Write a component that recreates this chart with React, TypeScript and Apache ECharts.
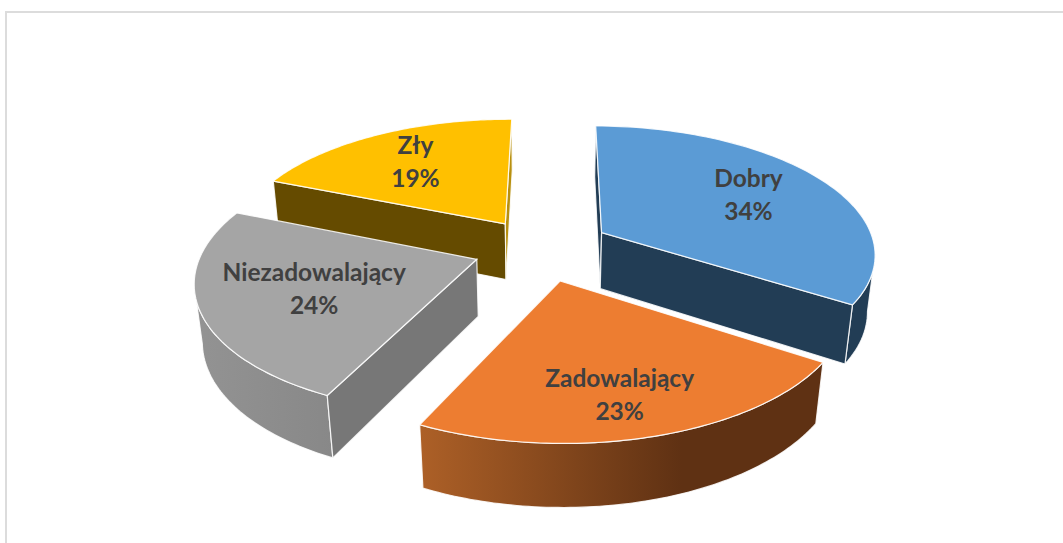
import React, { useEffect, useRef } from "react";
import * as echarts from "echarts";

const categories = ["Dobry", "Zadowalający", "Niezadowalający", "Zły"];
const values = [34, 23, 24, 19];

const W = 1063;
const H = 543;
const CX = 540;
const CY = 248;
const RX = 274;
const RY = 127;
const PERSP = 0.15;
const ROTATION = 0.5;
const EXPLODE = [0.26, 0.26, 0.244, 0.235];
const DEPTH = 58;
const DEPTH_W = 0.023;
const LABEL_R = [0.67, 0.74, 0.585, 0.645];
const LABEL_DX = [-2, -7, -4, -4];
const LABEL_DY = [-1, 3, 0, -3];
const DRAW_ORDER = [3, 2, 0, 1];

const topColors = ["#5b9bd5", "#ed7d31", "#a5a5a5", "#ffc000"];
const sideColors = ["#223d55", "#5f3113", "#777777", "#654b00"];
const startWall = ["#223d55", "#5f3113", "#777777", "#654b00"];
const endWall = ["#223d55", "#5f3113", "#777777", "#b8900f"];

function project(X: number, Y: number, Z: number): number[] {
  const w = 1 + PERSP * Y + DEPTH_W * Z;
  return [CX + (RX * X) / w, CY + (-RY * Y + DEPTH * Z) / w];
}

const total = values.reduce((a, b) => a + b, 0);
const rad = (d: number) => (d * Math.PI) / 180;

function outerGradient(i: number): any {
  if (i === 1) {
    return new echarts.graphic.LinearGradient(0, 0, 1, 0, [
      { offset: 0, color: "#ad6027" },
      { offset: 0.65, color: "#5f3113" },
      { offset: 1, color: "#5f3113" },
    ]);
  }
  if (i === 2) {
    return new echarts.graphic.LinearGradient(0, 0, 1, 0, [
      { offset: 0, color: "#939393" },
      { offset: 1, color: "#888888" },
    ]);
  }
  return sideColors[i];
}

const cross = (a: number[], b: number[], c: number[]) =>
  (b[0] - a[0]) * (c[1] - a[1]) - (b[1] - a[1]) * (c[0] - a[0]);

function renderSlice(params: any, api: any) {
  const i = params.dataIndex;
  const slot = DRAW_ORDER[i];
  let before = 0;
  for (let k = 0; k < slot; k++) before += values[k];
  const v = values[slot];
  const a0 = (before / total) * 360 + ROTATION;
  const a1 = ((before + v) / total) * 360 + ROTATION;
  const mid = (a0 + a1) / 2;
  const ox = Math.sin(rad(mid)) * EXPLODE[slot];
  const oy = Math.cos(rad(mid)) * EXPLODE[slot];
  const arcTop: number[][] = [];
  const arcBot: number[][] = [];
  const steps = 80;
  for (let s = 0; s <= steps; s++) {
    const a = rad(a0 + ((a1 - a0) * s) / steps);
    const x = ox + Math.sin(a);
    const y = oy + Math.cos(a);
    arcTop.push(project(x, y, 0));
    arcBot.push(project(x, y, 1));
  }
  const apexTop = project(ox, oy, 0);
  const apexBot = project(ox, oy, 1);
  const edge = { stroke: "rgba(255,255,255,0.85)", lineWidth: 1.2 };

  const inner = arcTop[Math.floor(steps / 2)];
  const wallVisible = (corner: number[]) => {
    const down = [apexTop[0], apexTop[1] + 10];
    return cross(apexTop, corner, down) * cross(apexTop, corner, inner) < 0;
  };

  const rimTop: number[][] = [];
  const rimBot: number[][] = [];
  for (let s = 0; s <= steps; s++) {
    const p = arcTop[Math.min(s, steps - 1)];
    const q = arcTop[Math.min(s, steps - 1) + 1];
    if (q[0] - p[0] < 0) {
      rimTop.push(arcTop[s]);
      rimBot.push(arcBot[s]);
    }
  }

  const children: any[] = [];
  if (rimTop.length > 1) {
    children.push({
      type: "polygon",
      shape: { points: [...rimTop, ...rimBot.slice().reverse()] },
      style: { fill: outerGradient(slot), ...edge },
    });
  }
  if (wallVisible(arcTop[0])) {
    children.push({
      type: "polygon",
      shape: { points: [apexTop, arcTop[0], arcBot[0], apexBot] },
      style: { fill: startWall[slot], ...edge },
    });
  }
  if (wallVisible(arcTop[steps])) {
    children.push({
      type: "polygon",
      shape: { points: [apexTop, arcTop[steps], arcBot[steps], apexBot] },
      style: { fill: endWall[slot], ...edge },
    });
  }
  children.push({
    type: "polygon",
    shape: { points: [apexTop, ...arcTop] },
    style: { fill: topColors[slot], ...edge },
  });
  const lm = rad(mid);
  const lr = LABEL_R[slot];
  const lp = project(ox + Math.sin(lm) * lr, oy + Math.cos(lm) * lr, 0);
  children.push({
    type: "text",
    style: {
      text: `${categories[slot]}\n${Math.round((v / total) * 100)}%`,
      x: lp[0] + LABEL_DX[slot],
      y: lp[1] + LABEL_DY[slot],
      align: "center",
      verticalAlign: "middle",
      fontFamily: "Lato",
      fontWeight: "bold",
      fontSize: 24.5,
      lineHeight: 33,
      fill: "#404040",
    },
  });
  return { type: "group", children };
}

export default function App() {
  const ref = useRef<HTMLDivElement>(null);
  useEffect(() => {
    const chart = echarts.init(ref.current!, undefined, { renderer: "svg" });
    chart.setOption({
      animation: false,
      backgroundColor: "#ffffff",
      graphic: [
        {
          type: "polyline",
          shape: { points: [[W, 12], [6, 12], [6, H]] },
          style: { stroke: "#dcdcdc", lineWidth: 2, fill: "none" },
        },
      ],
      series: [
        {
          type: "custom",
          coordinateSystem: "none",
          renderItem: renderSlice,
          data: DRAW_ORDER.map((k) => values[k]),
          silent: true,
        },
      ],
    });
    return () => chart.dispose();
  }, []);
  return (
    <div
      ref={ref}
      style={{ position: "fixed", left: 0, top: 0, width: W, height: H }}
    />
  );
}
